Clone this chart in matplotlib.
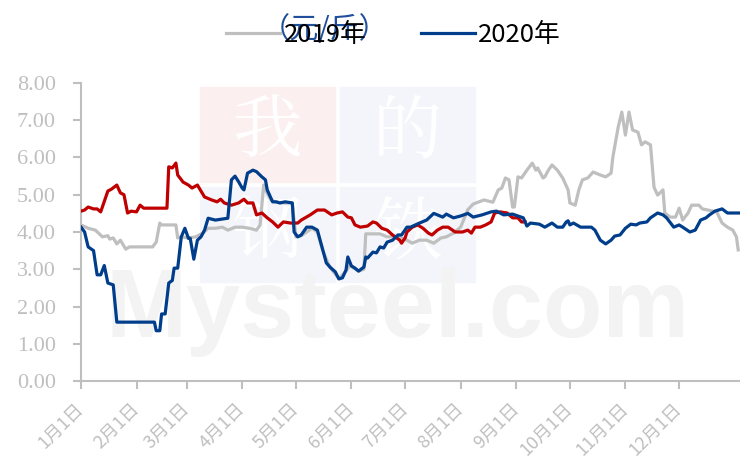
import matplotlib.pyplot as plt
from matplotlib.patches import Rectangle
from matplotlib.transforms import ScaledTranslation

plt.rcParams['font.family'] = ['Noto Sans CJK SC', 'DejaVu Sans']

# day of year (0 = Jan 1) and price (yuan / jin)
days_2019 = [0, 4, 8, 12, 15, 16, 18, 20, 22, 25, 27, 32, 40, 42, 44, 45, 53, 54, 56, 60,
             64, 68, 71, 75, 79, 82, 86, 90, 94, 98, 100, 102, 103, 106, 109, 114, 118, 120,
             123, 129, 132, 135, 139, 144, 148, 150, 155, 158, 159, 163, 167, 171, 177, 182,
             185, 189, 193, 197, 201, 204, 208, 212, 216, 219, 225, 230, 233, 235, 237, 239,
             241, 242, 244, 246, 249, 252, 254, 255, 258, 259, 261, 263, 266, 269, 272, 273,
             276, 278, 280, 283, 286, 290, 293, 296, 297, 300, 302, 304, 306, 308, 311, 313,
             315, 318, 320, 322, 325, 326, 329, 332, 334, 336, 339, 341, 345, 347, 355, 358,
             361, 364, 366, 367]
price_2019 = [4.19, 4.10, 4.05, 3.87, 3.90, 3.81, 3.84, 3.68, 3.78, 3.54, 3.60, 3.60, 3.60,
              3.73, 4.24, 4.19, 4.19, 3.84, 3.87, 3.84, 3.87, 3.97, 4.10, 4.10, 4.13, 4.05,
              4.13, 4.13, 4.10, 4.05, 4.19, 5.26, 5.13, 4.86, 4.80, 4.78, 4.78, 3.87, 3.90,
              4.10, 4.00, 3.50, 3.05, 2.75, 2.95, 3.10, 2.95, 3.00, 3.95, 3.95, 3.95, 3.87,
              3.87, 3.78, 3.70, 3.78, 3.78, 3.70, 3.84, 3.87, 3.97, 4.13, 4.60, 4.75, 4.86,
              4.80, 5.13, 5.18, 5.45, 5.40, 4.67, 4.67, 5.48, 5.45, 5.66, 5.85, 5.66, 5.72,
              5.45, 5.48, 5.66, 5.80, 5.66, 5.45, 5.13, 4.78, 4.72, 5.13, 5.40, 5.45, 5.61,
              5.53, 5.48, 5.58, 6.01, 6.82, 7.22, 6.60, 7.22, 6.74, 6.68, 6.34, 6.42, 6.34,
              5.20, 4.99, 5.13, 4.51, 4.40, 4.40, 4.64, 4.32, 4.51, 4.72, 4.72, 4.62, 4.54,
              4.24, 4.13, 4.05, 3.87, 3.52]

days_2020 = [0, 2, 4, 7, 9, 11, 13, 15, 18, 20, 41, 42, 44, 45, 47, 49, 51, 52, 54, 56, 58,
             60, 61, 63, 65, 67, 69, 71, 75, 79, 82, 84, 86, 88, 90, 91, 93, 96, 98, 101, 103,
             104, 107, 109, 111, 114, 118, 119, 121, 123, 126, 129, 132, 135, 137, 139, 142,
             144, 146, 148, 149, 151, 153, 155, 158, 159, 160, 163, 165, 167, 169, 171, 174,
             177, 179, 182, 184, 189, 193, 197, 202, 204, 208, 212, 216, 219, 224, 229, 232,
             236, 241, 247, 249, 251, 256, 259, 263, 266, 269, 271, 272, 273, 275, 279, 285,
             287, 290, 293, 296, 298, 301, 304, 307, 310, 312, 316, 318, 322, 325, 327, 331,
             334, 336, 340, 343, 346, 349, 351, 354, 358, 361, 368]
price_2020 = [4.13, 4.00, 3.60, 3.50, 2.85, 2.85, 3.10, 2.63, 2.58, 1.58, 1.58, 1.35, 1.35,
              1.80, 1.80, 2.63, 2.70, 3.03, 3.03, 3.87, 4.10, 3.83, 3.83, 3.27, 3.78, 3.87,
              4.05, 4.37, 4.32, 4.35, 4.37, 5.40, 5.50, 5.35, 5.18, 5.13, 5.58, 5.66, 5.62,
              5.48, 5.40, 5.13, 4.81, 4.81, 4.78, 4.81, 4.78, 4.00, 3.87, 3.92, 4.13, 4.13,
              4.05, 3.52, 3.17, 3.06, 2.93, 2.74, 2.77, 2.98, 3.33, 3.09, 3.03, 2.95, 3.06,
              3.33, 3.30, 3.46, 3.44, 3.60, 3.57, 3.73, 3.78, 3.92, 3.92, 4.13, 4.13, 4.24,
              4.32, 4.50, 4.40, 4.48, 4.38, 4.43, 4.50, 4.40, 4.46, 4.54, 4.56, 4.46, 4.48,
              4.38, 4.16, 4.24, 4.21, 4.13, 4.24, 4.13, 4.13, 4.27, 4.30, 4.19, 4.24,
              4.13, 4.13, 4.05, 3.78, 3.68, 3.78, 3.89, 3.92, 4.10, 4.21, 4.19, 4.24, 4.27,
              4.38, 4.51, 4.46, 4.38, 4.13, 4.19, 4.13, 4.00, 4.05, 4.32, 4.38, 4.46, 4.56,
              4.62, 4.51, 4.51]

days_2021 = [0, 2, 4, 7, 9, 11, 15, 17, 20, 22, 24, 26, 28, 31, 33, 35, 48, 49, 51, 53, 54,
             57, 60, 62, 65, 66, 69, 73, 76, 78, 80, 84, 88, 91, 93, 96, 98, 101, 104, 107,
             110, 113, 117, 121, 123, 128, 132, 136, 140, 143, 146, 149, 151, 153, 156, 160,
             163, 165, 168, 171, 174, 178, 179, 181, 182, 185, 188, 191, 194, 196, 199, 202,
             205, 209, 213, 216, 218, 220, 223, 226, 229, 231, 234, 238, 241, 244, 246, 248]
price_2021 = [4.56, 4.59, 4.67, 4.62, 4.62, 4.54, 5.10, 5.15, 5.26, 5.05, 5.00, 4.51, 4.56,
              4.54, 4.72, 4.64, 4.64, 5.75, 5.72, 5.85, 5.53, 5.34, 5.26, 5.18, 5.26, 5.18,
              4.94, 4.86, 4.81, 4.88, 4.78, 4.72, 4.78, 4.88, 4.78, 4.78, 4.46, 4.51, 4.38,
              4.27, 4.13, 4.27, 4.24, 4.24, 4.32, 4.46, 4.59, 4.59, 4.46, 4.51, 4.54, 4.40,
              4.38, 4.19, 4.13, 4.16, 4.27, 4.24, 4.10, 4.05, 3.92, 3.78, 3.70, 3.84, 4.00,
              4.13, 4.19, 4.10, 3.97, 3.92, 4.05, 4.13, 4.13, 4.00, 4.00, 4.05, 3.97, 4.13,
              4.13, 4.19, 4.27, 4.51, 4.54, 4.51, 4.38, 4.38, 4.27, 4.27]

month_starts = [0, 31, 59, 90, 120, 151, 181, 212, 243, 273, 304, 334]
month_labels = [f'{m}月1日' for m in range(1, 13)]
y_ticks = [0, 1, 2, 3, 4, 5, 6, 7, 8]

axis_grey = '#BFBFBF'

fig = plt.figure(figsize=(7.4, 4.65), dpi=100)
ax = fig.add_axes([81 / 740, 1 - 381 / 465, 1 - 81 / 740, (381 - 83) / 465])

# faint watermark behind the lines
wm = [(200, 87, '#FCEFEF', '我'), (340, 87, '#F3F5FA', '的'),
      (200, 187, '#F3F5FA', '钢'), (340, 187, '#F3F5FA', '铁')]
for x0, y0, c, ch in wm:
    ax.add_patch(Rectangle((x0 / 740, 1 - (y0 + 95) / 465), 135 / 740, 95 / 465,
                           transform=fig.transFigure, color=c, zorder=0.2, clip_on=False))
    ax.text((x0 + 67) / 740, 1 - (y0 + 47) / 465, ch, color='white', fontsize=50,
            ha='center', va='center', zorder=0.3, transform=fig.transFigure,
            fontfamily=['Noto Serif CJK SC', 'Noto Sans CJK SC'])
ax.text(105 / 740, 1 - 337 / 465, 'Mysteel.com', color='#F3F3F3', fontsize=70,
        fontweight='bold', ha='left', va='baseline', zorder=0.3,
        transform=fig.transFigure, fontfamily='Liberation Sans')

ax.plot(days_2019, price_2019, color='#BFBFBF', lw=2.3, label='2019年', zorder=2)
ax.plot(days_2020, price_2020, color='#003E8C', lw=2.3, label='2020年', zorder=4)
ax.plot(days_2021, price_2021, color='#C00000', lw=2.3, zorder=3)

ax.set_xlim(0, 368)
ax.set_ylim(0, 8)
ax.set_yticks(y_ticks)
ax.set_yticklabels([f'{v:.2f}' for v in y_ticks], fontfamily='Liberation Serif',
                   fontsize=16, color='#C4C4C4')
ax.set_xticks(month_starts)
ax.set_xticklabels(month_labels, rotation=45, ha='right', va='center',
                   rotation_mode='anchor', fontsize=13, color='#C4C4C4')
shift = ScaledTranslation(-5 / 72, 0, fig.dpi_scale_trans)
for lab in ax.get_xticklabels():
    lab.set_transform(lab.get_transform() + shift)

for s in ['top', 'right']:
    ax.spines[s].set_visible(False)
for s in ['left', 'bottom']:
    ax.spines[s].set_color(axis_grey)
    ax.spines[s].set_linewidth(1.5)
ax.tick_params(axis='both', colors=axis_grey, width=1.5, length=6)
ax.tick_params(axis='x', pad=12)
ax.tick_params(axis='y', pad=12)

fig.text(0.439, 0.935, '（元/斤）', color='#1F4E9A', fontsize=21, ha='center', va='center')
fig.legend(loc='center', bbox_to_anchor=(0.532, 0.925), ncol=2, frameon=False,
           fontsize=18.5, handlelength=2.1, columnspacing=2.1, handletextpad=0.15)

fig.savefig('out.png', dpi=100)
